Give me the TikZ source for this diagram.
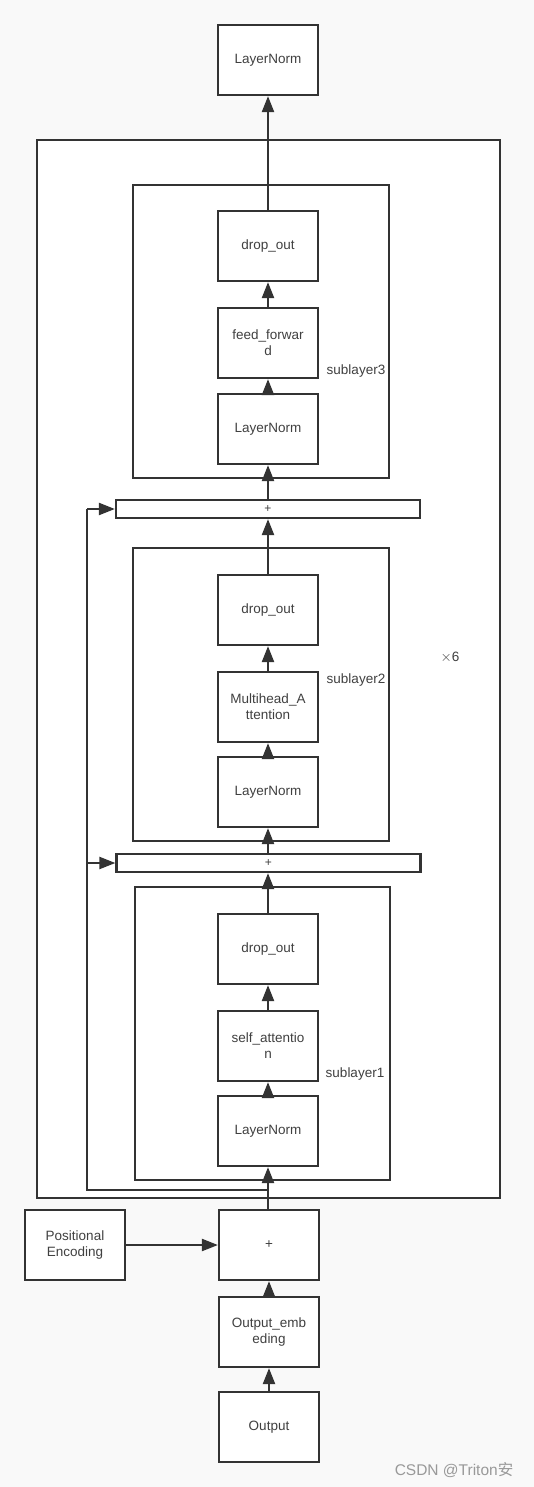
\documentclass[tikz,border=0pt]{standalone}
\usepackage{fontspec}
\setmainfont{Liberation Sans}
\usetikzlibrary{arrows.meta}
\definecolor{linegray}{HTML}{333333}
\definecolor{textgray}{HTML}{404040}
\definecolor{bggray}{HTML}{F9F9F9}
\tikzset{
  block/.style = {shape=rectangle, draw=linegray, line width=2.2pt,
                  fill=white, align=center, inner sep=2pt,
                  minimum width=100pt, minimum height=70pt,
                  text=textgray, font=\fontsize{13.5}{16}\selectfont},
  bar/.style   = {block, minimum width=304pt, minimum height=18pt,
                  font=\fontsize{12}{12}\selectfont},
  frame/.style = {shape=rectangle, draw=linegray, line width=2.2pt,
                  fill=white, inner sep=0pt},
  tag/.style   = {text=textgray, font=\fontsize{13.5}{16}\selectfont},
  flow/.style  = {draw=linegray, line width=2.2pt,
                  -{Triangle[length=16pt,width=12pt]}},
  plain/.style = {draw=linegray, line width=2.2pt}
}
\begin{document}
\begin{tikzpicture}[x=1pt, y=-1pt]
  \useasboundingbox [fill=bggray] (0,0) rectangle (534,1487);
  % frames
  \node [frame, minimum width=463pt, minimum height=1058pt] (stack) at (268.5,669) {};
  \node [frame, minimum width=256pt, minimum height=293pt] (sub3) at (261,331.5) {};
  \node [frame, minimum width=256pt, minimum height=293pt] (sub2) at (261,694.5) {};
  \node [frame, minimum width=255pt, minimum height=293pt] (sub1) at (262.5,1033.5) {};
  \node [tag] (lab3) at (356,371) {sublayer3};
  \node [tag] (lab2) at (356,680) {sublayer2};
  \node [tag] (lab1) at (355,1074) {sublayer1};
  \node [tag] (times) at (450,657) {$\times$6};
  % blocks
  \node [block] (norm)  at (268,60)   {LayerNorm};
  \node [block] (drop3) at (268,246)  {drop\_out};
  \node [block] (ffn)   at (268,343)  {feed\_forwar\\d};
  \node [block] (norm3) at (268,429)  {LayerNorm};
  \node [bar]   (add2)  at (268,509)  {+};
  \node [block] (drop2) at (268,610)  {drop\_out};
  \node [block] (mha)   at (268,707)  {Multihead\_A\\ttention};
  \node [block] (norm2) at (268,792)  {LayerNorm};
  \node [bar]   (add1)  at (268.5,863) {+};
  \node [block] (drop1) at (268,949)  {drop\_out};
  \node [block] (self)  at (268,1046) {self\_attentio\\n};
  \node [block] (norm1) at (268,1131) {LayerNorm};
  \node [block] (pos)   at (75,1245)  {Positional\\Encoding};
  \node [block] (plus)  at (269,1245) {+};
  \node [block] (embed) at (269,1332) {Output\_emb\\eding};
  \node [block] (out)   at (269,1427) {Output};
  \node [text=gray!80, font=\fontsize{15.5}{18}\selectfont] (mark) at (454,1470) {CSDN @Triton\fontspec{Noto Sans CJK SC}安};
  % connectors
  \draw [flow] (out) -- (embed);
  \draw [flow] (embed) -- (plus);
  \draw [flow] (pos) -- (plus);
  \draw [flow] (plus.north -| norm1) -- (norm1.south);
  \draw [flow] (norm1) -- (self);
  \draw [flow] (self) -- (drop1);
  \draw [flow] (drop1) -- (add1.south -| drop1);
  \draw [flow] (add1.north -| norm2) -- (norm2);
  \draw [flow] (norm2) -- (mha);
  \draw [flow] (mha) -- (drop2);
  \draw [flow] (drop2) -- (add2.south -| drop2);
  \draw [flow] (add2.north -| norm3) -- (norm3);
  \draw [flow] (norm3) -- (ffn);
  \draw [flow] (ffn) -- (drop3);
  \draw [flow] (drop3) -- (norm);
  % residual
  \coordinate (tap) at (268,1190);
  \coordinate (rail) at (87,1190);
  \draw [plain] (tap) -- (rail) -- (87,509);
  \draw [flow] (87,509) -- (add2.west);
  \draw [flow] (87,863) -- (add1.west);
\end{tikzpicture}
\end{document}
